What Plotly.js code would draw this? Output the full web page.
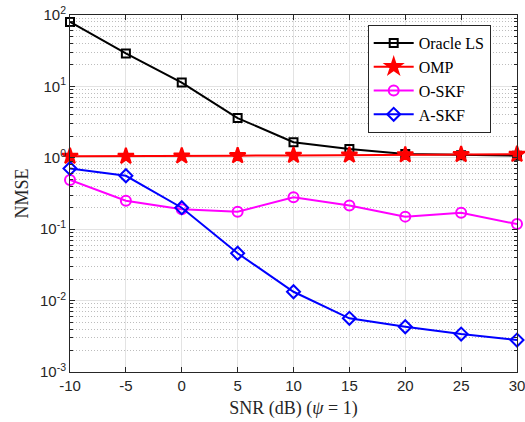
<!DOCTYPE html>
<html>
<head>
<meta charset="utf-8">
<script src="https://cdn.plot.ly/plotly-3.0.1.min.js"></script>
<style>html,body{margin:0;padding:0;background:#fff;}#chart{width:525px;height:422px;}</style>
</head>
<body>
<div id="chart"></div>
<script>
// SNR sweep (dB)
const snr = [-10, -5, 0, 5, 10, 15, 20, 25, 30];
// NMSE per estimator
const oracleLS = [80, 29, 11.3, 3.6, 1.65, 1.33, 1.13, 1.09, 1.07];
const omp      = [1.05, 1.05, 1.06, 1.07, 1.08, 1.09, 1.10, 1.11, 1.12];
const oSKF     = [0.49, 0.25, 0.19, 0.176, 0.28, 0.214, 0.15, 0.17, 0.118];
const aSKF     = [0.71, 0.56, 0.20, 0.046, 0.0133, 0.00565, 0.0043, 0.0034, 0.0028];
// y tick labels
const yTickVals = [0.001, 0.01, 0.1, 1, 10, 100];
const yTickText = ['10<sup>-3</sup>', '10<sup>-2</sup>', '10<sup>-1</sup>', '10<sup>0</sup>', '10<sup>1</sup>', '10<sup>2</sup>'];

const serif = 'Liberation Serif, DejaVu Serif, serif';
const sans = 'Liberation Sans, Arial, sans-serif';

function series(name, y, color, symbol, size) {
  return {
    x: snr, y: y, name: name, type: 'scatter', mode: 'lines+markers',
    cliponaxis: false,
    line: {color: color, width: 2},
    marker: {symbol: symbol, size: size, color: color, line: {color: color, width: 2}}
  };
}

const data = [
  series('Oracle LS', oracleLS, '#000000', 'square-open', 8),
  series('OMP', omp, '#ff0000', 'star', 12),
  series('O-SKF', oSKF, '#ff00ff', 'circle-open', 10),
  series('A-SKF', aSKF, '#0000ff', 'diamond-open', 10)
];

const layout = {
  width: 525, height: 422,
  margin: {l: 70, r: 8, t: 15, b: 50},
  paper_bgcolor: '#fff', plot_bgcolor: '#fff',
  showlegend: true,
  legend: {
    x: 0.666, y: 0.972, xanchor: 'left', yanchor: 'top',
    bgcolor: '#fff', bordercolor: '#262626', borderwidth: 1,
    font: {family: serif, size: 16, color: '#000'},
    itemwidth: 40, tracegroupgap: 0
  },
  xaxis: {
    range: [-10, 30], tickvals: snr, ticktext: snr.map(String),
    ticks: 'inside', ticklen: 5, tickcolor: '#262626',
    ticklabeloverflow: 'allow',
    showline: true, linecolor: '#262626', linewidth: 1, mirror: 'ticks',
    showgrid: true, gridcolor: '#e3e3e3', gridwidth: 1, zeroline: false,
    tickfont: {family: sans, size: 15, color: '#262626'},
    title: {text: 'SNR (dB) (<i>ψ</i> = 1)', font: {family: serif, size: 18, color: '#262626'}, standoff: 8}
  },
  yaxis: {
    type: 'log', range: [-3, 2],
    tickvals: yTickVals, ticktext: yTickText,
    ticks: 'inside', ticklen: 5, tickcolor: '#262626',
    ticklabeloverflow: 'allow',
    showline: true, linecolor: '#262626', linewidth: 1, mirror: 'ticks',
    showgrid: true, gridcolor: '#e3e3e3', gridwidth: 1, zeroline: false,
    tickfont: {family: sans, size: 15, color: '#262626'},
    title: {text: 'NMSE', font: {family: serif, size: 18, color: '#262626'}, standoff: 6},
    minor: {
      dtick: 'D1', ticks: 'inside', ticklen: 3, tickcolor: '#262626',
      showgrid: true, gridcolor: '#bdbdbd', griddash: '1px,2px', gridwidth: 1
    }
  }
};

Plotly.newPlot('chart', data, layout, {displayModeBar: false, staticPlot: true});
</script>
</body>
</html>
